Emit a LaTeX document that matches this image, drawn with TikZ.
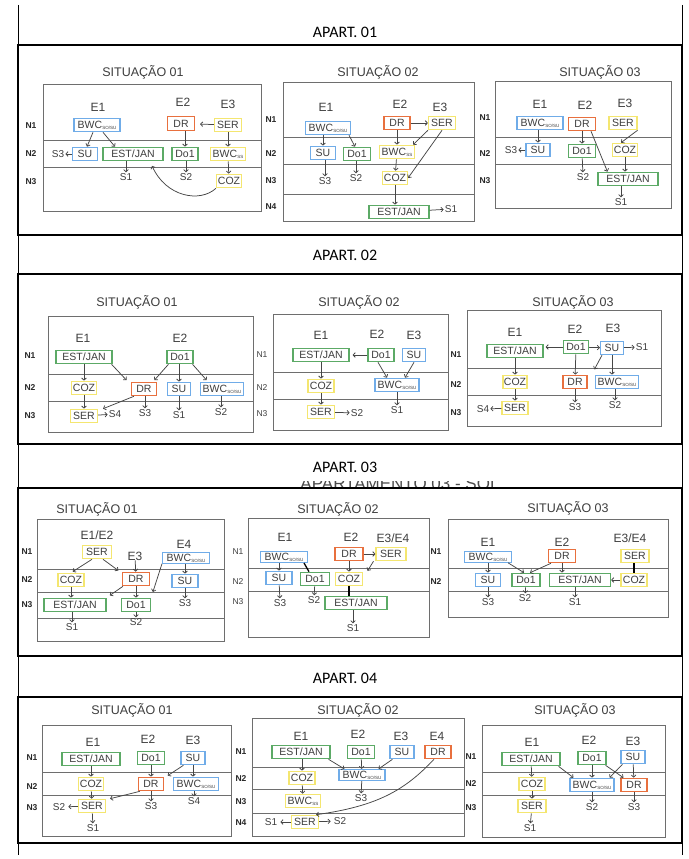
\documentclass[tikz,border=0pt]{standalone}
\usepackage{fontspec}
\setmainfont{Carlito}
\newfontfamily\arl{Liberation Sans}
\usetikzlibrary{arrows.meta}
\definecolor{cblue}{RGB}{112,172,232}
\definecolor{cred}{RGB}{232,112,62}
\definecolor{cgreen}{RGB}{92,170,102}
\definecolor{cyel}{RGB}{244,230,112}
\definecolor{cline}{RGB}{110,110,110}
\definecolor{ctxt}{RGB}{62,62,62}
\definecolor{carrow}{RGB}{70,70,70}
\newcommand\bwcso{BWC\kern0.3pt\raisebox{-0.8pt}{\fontsize{4.5}{5}\selectfont SO/SU}}
\newcommand\bwcss{BWC\kern0.3pt\raisebox{-0.8pt}{\fontsize{4.5}{5}\selectfont SS}}
\tikzset{
 bx/.style={draw, line width=1.1pt, font=\arl\fontsize{10.5}{11}\selectfont, text=ctxt, inner sep=0pt, minimum height=13.5pt},
 bB/.style={bx, draw=cblue, minimum width=#1},
 bR/.style={bx, draw=cred, minimum width=#1},
 bG/.style={bx, draw=cgreen, minimum width=#1},
 bY/.style={bx, draw=cyel, minimum width=#1},
 ttl/.style={font=\arl\fontsize{12.5}{13}\selectfont, text=ctxt, inner sep=0pt},
 el/.style={font=\arl\fontsize{12}{12}\selectfont, text=ctxt, inner sep=0pt},
 sl/.style={font=\arl\fontsize{10}{10}\selectfont, text=ctxt, inner sep=1pt},
 nl/.style={font=\arl\bfseries\fontsize{8.5}{9}\selectfont, text=black!85, inner sep=0pt},
 nn/.style={font=\arl\fontsize{8.5}{9}\selectfont, text=ctxt, inner sep=0pt},
 ar/.style={draw=carrow, line width=0.75pt, -{Straight Barb[length=2.2pt,width=4.6pt]}},
 blk/.style={draw=black, line width=1.3pt},
 sbox/.style={draw=cline, line width=1pt},
 lvl/.style={draw=cline, line width=1pt},
 frm/.style={draw=black, line width=1.8pt},
 ap/.style={font=\fontsize{16}{16}\selectfont, inner sep=0pt}
}
\begin{document}
\begin{tikzpicture}[x=1pt,y=-1pt]
\useasboundingbox (0,0) rectangle (688,859);
\fill[white] (0,0) rectangle (688,859);
\draw[black, line width=1pt] (18,5) -- (18,855) (682,5) -- (682,855);

%%%%%%%%%%%%%%%% APART 01
\node[ap] (ap1) at (345,32) {APART. 01};
\draw[frm] (18,45) rectangle (682,235);
% Sit 01
\node[ttl] (a1t) at (143,72) {SITUAÇÃO 01};
\draw[sbox] (43,84) rectangle (261,211);
\draw[lvl] (43,140.5) -- (261,140.5) (43,167) -- (261,167);
\node[nl] (a1n1) at (31,126) {N1};
\node[nl] (a1n2) at (31,154) {N2};
\node[nl] (a1n3) at (31,182) {N3};
\node[el] (a1e1) at (98,107) {E1};
\node[el] (a1e2) at (183,102) {E2};
\node[el] (a1e3) at (228,104) {E3};
\node[bB=46] (a1bwc) at (97,125) {\bwcso};
\node[bR=27] (a1dr) at (181,123.5) {DR};
\node[bY=27] (a1ser) at (228,125) {SER};
\node[bB=25] (a1su) at (85,154) {SU};
\node[bG=60] (a1ej) at (133,154) {EST/JAN};
\node[bG=26] (a1do) at (185,154) {Do1};
\node[bY=35] (a1bs) at (228,154) {\bwcss};
\node[bY=25] (a1coz) at (229,181) {COZ};
\node[sl] (a1s3) at (58,154) {S3};
\node[sl] (a1s1) at (126,177) {S1};
\node[sl] (a1s2) at (186,177) {S2};
\draw[ar] ([xshift=-4pt]a1bwc.south) -- ([xshift=2pt]a1su.north);
\draw[ar] ([xshift=6pt]a1bwc.south) -- ([xshift=-18pt]a1ej.north);
\draw[ar,shorten >=5pt] (a1ser) -- (a1dr);
\draw[ar] (a1dr.south -| a1do) -- (a1do);
\draw[ar] (a1ser) -- (a1bs);
\draw[ar] (a1bs) -- (a1coz);
\draw[ar] (a1su) -- (a1s3);
\draw[ar] (a1ej.south -| a1s1) -- (a1s1);
\draw[ar] (a1do.south -| a1s2) -- (a1s2);
\draw[ar,shorten >=5pt] (a1coz.south west) .. controls (200,203) and (166,197) .. ([xshift=17pt]a1ej.south);
% Sit 02
\node[ttl] (b1t) at (378,72) {SITUAÇÃO 02};
\draw[sbox] (283,82) rectangle (474,221);
\draw[lvl] (283,137) -- (474,137) (283,164) -- (474,164) (283,194) -- (474,194);
\node[nl] (b1n1) at (271,120) {N1};
\node[nl] (b1n2) at (271,154) {N2};
\node[nl] (b1n3) at (271,181) {N3};
\node[nl] (b1n4) at (271,207) {N4};
\node[el] (b1e1) at (326,107) {E1};
\node[el] (b1e2) at (400,104) {E2};
\node[el] (b1e3) at (440,107) {E3};
\node[bB=45] (b1bwc) at (328,128) {\bwcso};
\node[bR=26] (b1dr) at (397,123) {DR};
\node[bY=27] (b1ser) at (442,123) {SER};
\node[bB=25] (b1su) at (323,153) {SU};
\node[bG=27] (b1do) at (357,154) {Do1};
\node[bY=35] (b1bs) at (397,152) {\bwcss};
\node[bY=25] (b1coz) at (395,178) {COZ};
\node[bG=60] (b1ej) at (399,212) {EST/JAN};
\node[sl] (b1s3) at (325,181) {S3};
\node[sl] (b1s2) at (356,178) {S2};
\node[sl] (b1s1) at (451,209) {S1};
\draw[ar] (b1bwc.south -| b1su) -- (b1su);
\draw[ar] ([xshift=-2pt]b1bwc.south east) -- ([xshift=-2pt]b1do.north);
\draw[ar] (b1dr) -- (b1ser);
\draw[ar] (b1dr) -- (b1bs);
\draw[ar] (b1ser.south west) -- ([xshift=-2pt]b1bs.north east);
\draw[ar] (b1ser.south) -- (b1coz.east);
\draw[ar] (b1bs) -- (b1coz);
\draw[ar] (b1coz.south) -- (b1coz.south |- b1ej.north);
\draw[ar] (b1ej) -- (b1s1);
\draw[ar] (b1su.south -| b1s3) -- (b1s3);
\draw[ar] (b1do.south -| b1s2) -- (b1s2);
% Sit 03
\node[ttl] (c1t) at (600,72) {SITUAÇÃO 03};
\draw[sbox] (495,81) rectangle (671,208);
\draw[lvl] (495,137) -- (671,137) (495,164) -- (671,164);
\node[nl] (c1n1) at (485,118) {N1};
\node[nl] (c1n2) at (485,154) {N2};
\node[nl] (c1n3) at (485,181) {N3};
\node[el] (c1e1) at (540,104) {E1};
\node[el] (c1e2) at (585,105) {E2};
\node[el] (c1e3) at (625,103) {E3};
\node[bB=46] (c1bwc) at (540,123) {\bwcso};
\node[bR=27] (c1dr) at (582,124) {DR};
\node[bY=28] (c1ser) at (623,123) {SER};
\node[bB=24] (c1su) at (538,150) {SU};
\node[bG=27] (c1do) at (582,151) {Do1};
\node[bY=25] (c1coz) at (625,150) {COZ};
\node[bG=60] (c1ej) at (628,179) {EST/JAN};
\node[sl] (c1s3) at (511,150) {S3};
\node[sl] (c1s2) at (583,177) {S2};
\node[sl] (c1s1) at (621,202) {S1};
\draw[ar] (c1bwc.south -| c1su) -- (c1su);
\draw[ar] (c1su) -- (c1s3);
\draw[ar] (c1dr) -- (c1do);
\draw[ar] ([xshift=-5pt]c1dr.south east) -- ([xshift=10pt]c1ej.north west);
\draw[ar] (c1ser.south east) -- ([xshift=-4pt]c1coz.north);
\draw[ar] (c1do) -- (c1s2);
\draw[ar] (c1coz.south) -- (c1coz.south |- c1ej.north);
\draw[ar] (c1ej.south -| c1s1) -- (c1s1);

%%%%%%%%%%%%%%%% APART 02
\node[ap] (ap2) at (345,255) {APART. 02};
\draw[frm] (18,274) rectangle (682,444);
% Sit 01
\node[ttl] (d1t) at (137,302) {SITUAÇÃO 01};
\draw[sbox] (48,316) rectangle (253,432);
\draw[lvl] (48,374) -- (253,374) (48,401) -- (253,401);
\node[nl] (d1n1) at (30,356) {N1};
\node[nl] (d1n2) at (30,388) {N2};
\node[nl] (d1n3) at (30,416) {N3};
\node[el] (d1e1) at (83,338) {E1};
\node[el] (d1e2) at (180,338) {E2};
\node[bG=56] (d1ej) at (84,357) {EST/JAN};
\node[bG=26] (d1do) at (180,357) {Do1};
\node[bY=25] (d1coz) at (84,388) {COZ};
\node[bR=25] (d1dr) at (144,389) {DR};
\node[bB=23] (d1su) at (179,389) {SU};
\node[bB=43] (d1bwc) at (222,389) {\bwcso};
\node[bY=27] (d1ser) at (84,416) {SER};
\node[sl] (d1s4) at (115,414) {S4};
\node[sl] (d1s3) at (145,413) {S3};
\node[sl] (d1s1) at (179,415) {S1};
\node[sl] (d1s2) at (221,412) {S2};
\draw[ar] (d1ej) -- (d1coz);
\draw[ar,shorten >=2pt] ([xshift=-1pt]d1ej.south east) -- ([xshift=-3pt]d1dr.north west);
\draw[ar,shorten >=2pt] ([xshift=2pt]d1do.south west) -- ([xshift=-4pt]d1dr.north east);
\draw[ar] (d1do.south -| d1su) -- (d1su);
\draw[ar,shorten >=2pt] ([xshift=-1pt]d1do.south east) -- ([xshift=8pt]d1bwc.north west);
\draw[ar] (d1coz) -- (d1ser);
\draw[ar] ([xshift=3pt]d1dr.south west) -- ([xshift=5pt]d1ser.north east);
\draw[ar] (d1ser) -- (d1s4);
\draw[ar] (d1dr.south -| d1s3) -- (d1s3);
\draw[ar] (d1su) -- (d1s1);
\draw[ar] (d1bwc.south -| d1s2) -- (d1s2);
% Sit 02
\node[ttl] (e1t) at (359,302) {SITUAÇÃO 02};
\draw[sbox] (273,314) rectangle (448,430);
\draw[lvl] (273,372) -- (448,372) (273,399) -- (448,399);
\node[nn] (e1n1) at (262,355) {N1};
\node[nn] (e1n2) at (262,388) {N2};
\node[nn] (e1n3) at (262,414) {N3};
\node[el] (e1e1) at (321,335) {E1};
\node[el] (e1e2) at (377,334) {E2};
\node[el] (e1e3) at (414,335) {E3};
\node[bG=56] (e1ej) at (321,355) {EST/JAN};
\node[bG=26] (e1do) at (381,355) {Do1};
\node[bB=23] (e1su) at (414,355) {SU};
\node[bY=26] (e1coz) at (321,386) {COZ};
\node[bB=44] (e1bwc) at (397,385) {\bwcso};
\node[bY=27] (e1ser) at (321,412) {SER};
\node[sl] (e1s2) at (357,413) {S2};
\node[sl] (e1s1) at (397,410) {S1};
\draw[ar,shorten >=3pt] (e1do) -- (e1ej);
\draw[ar] (e1ej) -- (e1coz);
\draw[ar] (e1coz) -- (e1ser);
\draw[ar] (e1ser) -- (e1s2);
\draw[ar] ([xshift=-3pt]e1do.south) -- ([xshift=-10pt]e1bwc.north);
\draw[ar] (e1su.south) -- ([xshift=8pt]e1bwc.north);
\draw[ar] (e1bwc) -- (e1s1);
% Sit 03
\node[ttl] (f1t) at (573,302) {SITUAÇÃO 03};
\draw[sbox] (467,310) rectangle (661,426);
\draw[lvl] (467,368) -- (661,368) (467,395) -- (661,395);
\node[nl] (f1n1) at (456,355) {N1};
\node[nl] (f1n2) at (456,385) {N2};
\node[nl] (f1n3) at (456,413) {N3};
\node[el] (f1e1) at (515,332) {E1};
\node[el] (f1e2) at (575,329) {E2};
\node[el] (f1e3) at (613,328) {E3};
\node[bG=56] (f1ej) at (515,351) {EST/JAN};
\node[bG=25] (f1do) at (576,347) {Do1};
\node[bB=23] (f1su) at (612,348) {SU};
\node[bY=24] (f1coz) at (515,382) {COZ};
\node[bR=24] (f1dr) at (575,382) {DR};
\node[bB=43] (f1bwc) at (617,382) {\bwcso};
\node[bY=26] (f1ser) at (515,408) {SER};
\node[sl] (f1s1) at (642,347) {S1};
\node[sl] (f1s4) at (483,409) {S4};
\node[sl] (f1s3) at (575,407) {S3};
\node[sl] (f1s2) at (615,405) {S2};
\draw[ar,shorten >=2pt] (f1do) -- (f1ej.east |- f1do);
\draw[ar] (f1do) -- (f1su);
\draw[ar] (f1su) -- (f1s1);
\draw[ar] (f1do) -- (f1dr);
\draw[ar,shorten >=6pt] ([xshift=2pt]f1su.south west) -- ([xshift=4pt]f1dr.north east);
\draw[ar] (f1su.south) -- (f1su.south |- f1bwc.north);
\draw[ar] (f1ej) -- (f1coz);
\draw[ar] (f1coz) -- (f1ser);
\draw[ar] (f1ser) -- (f1s4);
\draw[ar] (f1dr) -- (f1s3);
\draw[ar] (f1bwc.south -| f1s2) -- (f1s2);

%%%%%%%%%%%%%%%% APART 03
\begin{scope}
\clip (290,481) rectangle (520,488);
\node[font=\arl\fontsize{17}{17}\selectfont, text=black!70, anchor=base, inner sep=0pt] (ap3x) at (400,489) {APARTAMENTO 03 - SOL};
\end{scope}
\node[ap] (ap3) at (345,467) {APART. 03};
\draw[frm] (18,488) rectangle (682,656);
% Sit 01
\node[ttl] (g1t) at (97,509) {SITUAÇÃO 01};
\draw[sbox] (37,519) rectangle (224,641);
\draw[lvl] (37,569) -- (224,569) (37,592) -- (224,592) (37,618) -- (224,618);
\node[nl] (g1n1) at (27,552) {N1};
\node[nl] (g1n2) at (27,580) {N2};
\node[nl] (g1n3) at (27,605) {N3};
\node[el] (g1e1) at (97,535) {E1/E2};
\node[el] (g1e3) at (135,556) {E3};
\node[el] (g1e4) at (184,544) {E4};
\node[bY=29] (g1ser) at (97,552) {SER};
\node[bB=47, minimum height=10.5pt] (g1bwc) at (186,558) {\bwcso};
\node[bY=26] (g1coz) at (71,580) {COZ};
\node[bR=27] (g1dr) at (136,579) {DR};
\node[bB=26] (g1su) at (185,581) {SU};
\node[bG=62] (g1ej) at (75,605) {EST/JAN};
\node[bG=29] (g1do) at (136,605) {Do1};
\node[sl] (g1s3) at (185,603) {S3};
\node[sl] (g1s1) at (72,627) {S1};
\node[sl] (g1s2) at (136,622) {S2};
\draw[ar,shorten >=2pt] ([xshift=-5pt]g1ser.south) -- (g1coz.north);
\draw[ar,shorten >=2pt] ([xshift=6pt]g1ser.south) -- ([xshift=-2pt]g1dr.north west);
\draw[ar] (g1e3) -- (g1dr);
\draw[ar,shorten >=6pt] (g1bwc.south west) -- (g1do.north east);
\draw[ar] (g1bwc.south -| g1su) -- (g1su);
\draw[ar] (g1coz.south) -- (g1coz.south |- g1ej.north);
\draw[ar,shorten >=4pt] ([xshift=1pt]g1dr.south west) -- (g1ej.north east);
\draw[ar] (g1dr) -- (g1do);
\draw[ar] (g1su) -- (g1s3);
\draw[ar] (g1ej.south -| g1s1) -- (g1s1);
\draw[ar] (g1do) -- (g1s2);
% Sit 02
\node[ttl] (h1t) at (338,509) {SITUAÇÃO 02};
\draw[sbox] (248,518) rectangle (429,637);
\draw[lvl] (248,568) -- (429,568) (248,591) -- (429,591);
\node[nn] (h1n1) at (238,552) {N1};
\node[nn] (h1n2) at (238,582) {N2};
\node[nn] (h1n3) at (238,602) {N3};
\node[el] (h1e1) at (285,537) {E1};
\node[el] (h1e2) at (351,537) {E2};
\node[el] (h1e3) at (393,538) {E3/E4};
\node[bB=47, minimum height=11pt] (h1bwc) at (284,557) {\bwcso};
\node[bR=28] (h1dr) at (349,554) {DR};
\node[bY=30] (h1ser) at (391,554) {SER};
\node[bB=26] (h1su) at (279,578) {SU};
\node[bG=29] (h1do) at (315,579) {Do1};
\node[bY=27] (h1coz) at (349,579) {COZ};
\node[bG=62] (h1ej) at (356,603) {EST/JAN};
\node[sl] (h1s3) at (280,603) {S3};
\node[sl] (h1s2) at (314,600) {S2};
\node[sl] (h1s1) at (353,628) {S1};
\draw[ar] (h1bwc.south -| h1su) -- (h1su);
\draw[blk] ([xshift=-4pt]h1bwc.south east) -- ([xshift=-6pt]h1do.north);
\draw[ar] (h1dr) -- (h1ser);
\draw[ar] (h1dr) -- (h1coz);
\draw[ar,shorten >=1pt] ([xshift=-2pt]h1ser.south west) -- ([xshift=4pt]h1coz.north east);
\draw[blk] (h1coz.south) -- (h1coz.south |- h1ej.north);
\draw[ar] (h1su) -- (h1s3);
\draw[ar] (h1do) -- (h1s2);
\draw[ar] (h1ej.south -| h1s1) -- (h1s1);
% Sit 03
\node[ttl] (i1t) at (568,508) {SITUAÇÃO 03};
\draw[sbox] (448,519) rectangle (668,617);
\draw[lvl] (448,568) -- (668,568) (448,591) -- (668,591);
\node[nl] (i1n1) at (436,552) {N1};
\node[nl] (i1n2) at (436,582) {N2};
\node[el] (i1e1) at (488,542) {E1};
\node[el] (i1e2) at (562,542) {E2};
\node[el] (i1e3) at (630,538) {E3/E4};
\node[bB=47, minimum height=10.5pt] (i1bwc) at (488,557) {\bwcso};
\node[bR=27] (i1dr) at (562,556) {DR};
\node[bY=28] (i1ser) at (635,556) {SER};
\node[bB=25] (i1su) at (488,580) {SU};
\node[bG=28] (i1do) at (526,580) {Do1};
\node[bG=61] (i1ej) at (580,580) {EST/JAN};
\node[bY=26] (i1coz) at (634,580) {COZ};
\node[sl] (i1s3) at (488,602) {S3};
\node[sl] (i1s2) at (525,598) {S2};
\node[sl] (i1s1) at (575,602) {S1};
\draw[ar] (i1bwc) -- (i1su);
\draw[ar] ([xshift=-4pt]i1bwc.south east) -- ([xshift=-2pt]i1do.north);
\draw[ar] ([xshift=3pt]i1dr.south west) -- ([xshift=4pt]i1do.north);
\draw[ar] (i1dr.south) -- (i1dr.south |- i1ej.north);
\draw[blk] (i1ser.south -| i1coz) -- (i1coz);
\draw[ar] (i1coz) -- (i1ej);
\draw[ar] (i1su) -- (i1s3);
\draw[ar] (i1do) -- (i1s2);
\draw[ar] (i1ej.south -| i1s1) -- (i1s1);

%%%%%%%%%%%%%%%% APART 04
\node[ap] (ap4) at (345,678) {APART. 04};
\draw[frm] (18,697) rectangle (682,843);
% Sit 01
\node[ttl] (j1t) at (132,710) {SITUAÇÃO 01};
\draw[sbox] (42,725) rectangle (231,836);
\draw[lvl] (42,772) -- (231,772) (42,795) -- (231,795);
\node[nl] (j1n1) at (32,758) {N1};
\node[nl] (j1n2) at (32,787) {N2};
\node[nl] (j1n3) at (32,808) {N3};
\node[el] (j1e1) at (93,742) {E1};
\node[el] (j1e2) at (148,739) {E2};
\node[el] (j1e3) at (193,740) {E3};
\node[bG=58] (j1ej) at (91,759) {EST/JAN};
\node[bG=27] (j1do) at (151,758) {Do1};
\node[bB=24] (j1su) at (193,758) {SU};
\node[bY=25] (j1coz) at (91,784) {COZ};
\node[bR=25] (j1dr) at (151,784) {DR};
\node[bB=45] (j1bwc) at (196,784) {\bwcso};
\node[bY=27] (j1ser) at (92,806) {SER};
\node[sl] (j1s2) at (59,807) {S2};
\node[sl] (j1s3) at (151,806) {S3};
\node[sl] (j1s4) at (194,801) {S4};
\node[sl] (j1s1) at (93,828) {S1};
\draw[ar] (j1ej) -- (j1coz);
\draw[ar] (j1do) -- (j1dr);
\draw[ar,shorten >=2pt] ([xshift=3pt]j1su.south west) -- ([xshift=2pt]j1dr.north east);
\draw[ar] (j1su.south) -- (j1su.south |- j1bwc.north);
\draw[ar] (j1coz) -- (j1ser);
\draw[ar] ([xshift=2pt]j1dr.south west) -- ([xshift=4pt]j1ser.north east);
\draw[ar,shorten >=2pt] (j1ser) -- (j1s2);
\draw[ar] (j1ser) -- (j1s1);
\draw[ar] (j1dr) -- (j1s3);
\draw[ar] (j1bwc.south -| j1s4) -- (j1s4);
% Sit 02
\node[ttl] (k1t) at (358,710) {SITUAÇÃO 02};
\draw[sbox] (252,718) rectangle (464,836);
\draw[lvl] (252,767) -- (464,767) (252,789) -- (464,789) (252,813) -- (464,813);
\node[nl] (k1n1) at (241,752) {N1};
\node[nl] (k1n2) at (241,779) {N2};
\node[nl] (k1n3) at (241,802) {N3};
\node[nl] (k1n4) at (241,823) {N4};
\node[el] (k1e1) at (301,736) {E1};
\node[el] (k1e2) at (358,734) {E2};
\node[el] (k1e3) at (401,736) {E3};
\node[el] (k1e4) at (437,736) {E4};
\node[bG=58] (k1ej) at (301,752) {EST/JAN};
\node[bG=27] (k1do) at (361,752) {Do1};
\node[bB=24] (k1su) at (402,752) {SU};
\node[bR=26] (k1dr) at (438,752) {DR};
\node[bY=26] (k1coz) at (302,778) {COZ};
\node[bB=46, minimum height=11pt] (k1bwc) at (362,775) {\bwcso};
\node[bY=35] (k1bss) at (303,801) {\bwcss};
\node[bY=27] (k1ser) at (305,822) {SER};
\node[sl] (k1s3) at (361,798) {S3};
\node[sl] (k1s1) at (271,822) {S1};
\node[sl] (k1s2) at (340,821) {S2};
\draw[ar] (k1ej.south -| k1coz) -- (k1coz);
\draw[ar] ([xshift=-2pt]k1ej.south east) -- ([xshift=6pt]k1bwc.north west);
\draw[ar] (k1do) -- (k1bwc);
\draw[ar] ([xshift=3pt]k1su.south west) -- ([xshift=-7pt]k1bwc.north east);
\draw[ar] ([xshift=-4pt]k1dr.south) .. controls (405,790) and (378,806) .. ([xshift=-3pt]k1ser.north east);
\draw[ar] (k1coz) -- (k1bss);
\draw[ar] (k1bwc) -- (k1s3);
\draw[ar,shorten >=2pt] (k1ser) -- (k1s1);
\draw[ar,shorten >=2pt] (k1ser) -- (k1s2);
% Sit 03
\node[ttl] (l1t) at (575,710) {SITUAÇÃO 03};
\draw[sbox] (482,725) rectangle (665,837);
\draw[lvl] (482,772) -- (665,772) (482,795) -- (665,795);
\node[nl] (l1n1) at (471,757) {N1};
\node[nl] (l1n2) at (471,784) {N2};
\node[nl] (l1n3) at (471,808) {N3};
\node[el] (l1e1) at (532,742) {E1};
\node[el] (l1e2) at (589,740) {E2};
\node[el] (l1e3) at (633,741) {E3};
\node[bG=58] (l1ej) at (531,759) {EST/JAN};
\node[bG=28] (l1do) at (592,758) {Do1};
\node[bB=24] (l1su) at (633,757) {SU};
\node[bY=26] (l1coz) at (532,784) {COZ};
\node[bB=44] (l1bwc) at (592,785) {\bwcso};
\node[bR=26] (l1dr) at (634,785) {DR};
\node[bY=28] (l1ser) at (532,806) {SER};
\node[sl] (l1s2) at (592,807) {S2};
\node[sl] (l1s3) at (634,807) {S3};
\node[sl] (l1s1) at (530,828) {S1};
\draw[ar] (l1ej) -- (l1coz);
\draw[ar] ([xshift=-2pt]l1ej.south east) -- ([xshift=4pt]l1bwc.north west);
\draw[ar] (l1do) -- (l1bwc);
\draw[ar] ([xshift=-1pt]l1do.south east) -- ([xshift=3pt]l1dr.north west);
\draw[ar] ([xshift=2pt]l1su.south west) -- ([xshift=-5pt]l1bwc.north east);
\draw[ar] (l1su) -- (l1dr);
\draw[ar] (l1coz) -- (l1ser);
\draw[ar] (l1ser) -- (l1s1);
\draw[ar] (l1bwc) -- (l1s2);
\draw[ar] (l1dr) -- (l1s3);
\end{tikzpicture}
\end{document}
